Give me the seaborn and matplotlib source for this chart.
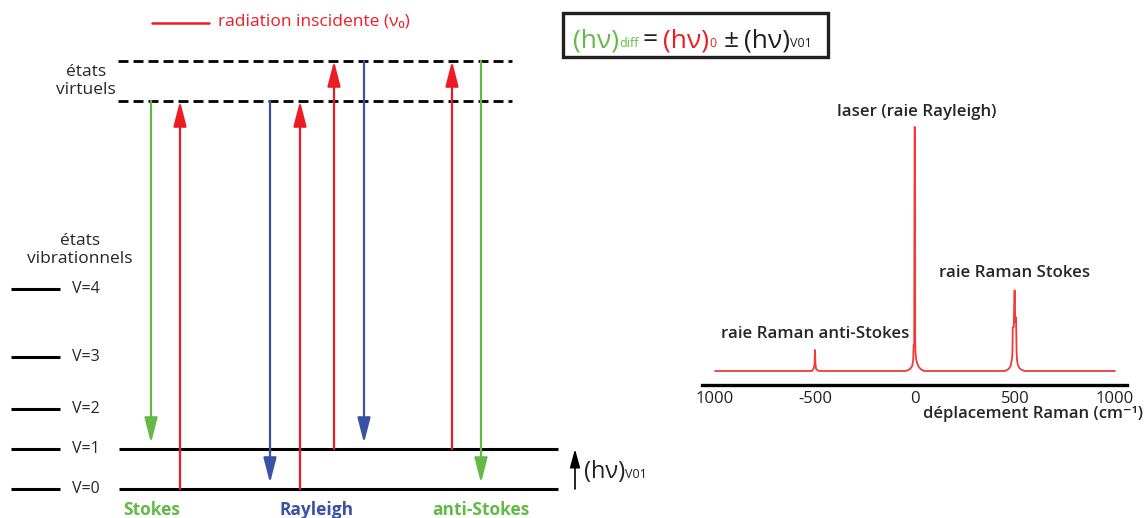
import matplotlib
matplotlib.use("Agg")
import matplotlib.pyplot as plt
import seaborn as sns

# --- data ---
level_names = ["V=0", "V=1", "V=2", "V=3", "V=4"]
level_energy = [0.0, 1.0, 2.0, 3.3, 5.0]          # in units of (hv)V01
virtual_energy = [9.7, 10.7]

# transitions, left to right
trans_from = [9.7, 0.0, 9.7, 0.0, 1.0, 10.7, 1.0, 10.7]
trans_to = [1.0, 9.7, 0.0, 9.7, 10.7, 1.0, 10.7, 0.0]
trans_kind = ["stokes", "incident", "rayleigh", "incident",
              "incident", "rayleigh", "incident", "anti"]
process_names = ["Stokes", "Rayleigh", "anti-Stokes"]

raman_shift = [-1000, -515, -507, -502, -500, -498, -495, -488, -478,
               -45, -25, -14, -9, -7, -4, -2, 0, 1, 3, 6, 12, 18, 28, 45,
               450, 468, 478, 484, 487, 489, 494, 497, 499, 501, 503, 505,
               508, 510, 514, 522, 532, 548, 1000]
intensity = [0, 0, 1.0, 3.0, 8.6, 3.0, 1.0, 0.3, 0,
             0, 0.8, 2.0, 4.5, 10.7, 11.0, 100, 100, 12.0, 7.0, 4.5, 3.0, 1.8, 0.8, 0,
             0, 0.8, 2.0, 4.5, 7.0, 18.0, 18.0, 33.0, 33.0, 20.0, 22.0, 22.0,
             8.0, 4.5, 2.5, 1.2, 0.5, 0, 0]
tick_vals = [-1000, -500, 0, 500, 1000]
tick_labels = ["1000", "-500", "0", "500", "1000"]

# --- style ---
RED = "#ED1C24"
GREEN = "#62B946"
BLUE = "#3A52A3"
SPEC_RED = "#F03A3A"
INK = "#231F20"
kind_color = {"stokes": GREEN, "anti": GREEN, "rayleigh": BLUE, "incident": RED}

sns.set_theme(style="white")
plt.rcParams["font.family"] = ["Open Sans", "DejaVu Sans"]

W, H = 1146, 518
fig = plt.figure(figsize=(W / 100, H / 100), dpi=100)


def fxy(x, y):
    return x / W, 1 - y / H


# --- energy diagram (x in pixels, y in energy) ---
ax = fig.add_axes([0, 0, 600 / W, 1])
ax.set_xlim(0, 600)
ax.set_ylim(-29 / 40, 489 / 40)
ax.axis("off")

for name, e in zip(level_names, level_energy):
    ax.plot([11, 60], [e, e], color="black", lw=2.2, solid_capstyle="butt")
    ax.text(72, e, name, va="center", ha="left", fontsize=11.5)
for e in level_energy[:2]:
    ax.plot([119, 558], [e, e], color="black", lw=2.2, solid_capstyle="butt")
for e in virtual_energy:
    ax.plot([118, 512], [e, e], color="black", lw=2, dashes=(3.6, 1.8))

trans_x = [151, 180, 270, 300, 334, 364, 452, 481]
for x, e0, e1, k in zip(trans_x, trans_from, trans_to, trans_kind):
    end = e1 if e1 > e0 else e1 + 0.15
    ax.annotate("", xy=(x, end), xytext=(x, e0),
                arrowprops=dict(arrowstyle="-|>,head_length=0.85,head_width=0.22",
                                color=kind_color[k], lw=1.6, shrinkA=0, shrinkB=0,
                                mutation_scale=18))

# (hv)V01 arrow
ax.annotate("", xy=(575, level_energy[1]), xytext=(575, level_energy[0]),
            arrowprops=dict(arrowstyle="-|>,head_length=0.8,head_width=0.22",
                            color="black", lw=1.2, shrinkA=0, shrinkB=0,
                            mutation_scale=14))

for name, x, c in zip(process_names, [152, 317, 481], [GREEN, BLUE, GREEN]):
    fig.text(*fxy(x, 510), name, color=c, ha="center", va="center",
             fontsize=12.5, fontweight="bold")

fig.text(*fxy(86, 81), "états\nvirtuels", ha="center", va="center",
         fontsize=12.5, linespacing=1.15)
fig.text(*fxy(80, 250), "états\nvibrationnels", ha="center", va="center",
         fontsize=12.5, linespacing=1.15)

# legend for incident radiation
fig.lines.append(plt.Line2D([152 / W, 209 / W], [1 - 23 / H, 1 - 23 / H],
                            transform=fig.transFigure, color=RED, lw=1.8))
fig.text(*fxy(218, 22), "radiation inscidente (ν₀)", color=RED,
         ha="left", va="center", fontsize=12.5)


def chain(pieces, x, y):
    """Write colored text pieces one after another on one baseline."""
    last = None
    for txt, color, size, dx in pieces:
        if last is None:
            last = fig.text(*fxy(x, y), txt, color=color, fontsize=size,
                            va="baseline", ha="left")
        else:
            last = ax.annotate(txt, xy=(1, fxy(0, y)[1]),
                               xycoords=(last, "figure fraction"),
                               xytext=(dx, 0), textcoords="offset points",
                               color=color, fontsize=size,
                               va="baseline", ha="left")
    return last


# formula box
fig.patches.append(plt.Rectangle(fxy(563, 57), 265 / W, 44 / H,
                                 transform=fig.transFigure, fill=False,
                                 edgecolor=INK, lw=2.4))
formula = [("(hν)", GREEN, 19, 0), ("diff", GREEN, 9, 0),
           ("=", INK, 19, 3), ("(hν)", RED, 19, 4),
           ("0", RED, 9, 0), ("±", INK, 19, 5),
           ("(hν)", INK, 19, 4), ("V01", INK, 9, 0)]
chain(formula, 573, 47)

chain([("(hν)", INK, 17, 0), ("V01", INK, 9, 0)], 584, 478)

# --- Raman spectrum ---
ax2 = fig.add_axes([702 / W, (H - 385) / H, 425 / W, 265 / H])
sns.lineplot(x=raman_shift, y=intensity, ax=ax2, color=SPEC_RED, lw=1.3)
ax2.set_xlim(-1065, 1060)
ax2.set_ylim(-5.74, 102.9)
for s in ["left", "top", "right"]:
    ax2.spines[s].set_visible(False)
ax2.spines["bottom"].set_linewidth(2.4)
ax2.spines["bottom"].set_color("black")
ax2.set_yticks([])
ax2.set_xticks(tick_vals, tick_labels, fontsize=12)
ax2.tick_params(axis="x", direction="in", length=6, width=2, pad=4, colors=INK)
ax2.set_xlabel("déplacement Raman (cm⁻¹)", fontsize=12, fontweight="semibold",
               loc="right")
ax2.xaxis.set_label_coords((1143 - 702) / 425, -(406 - 385) / 265)
ax2.patch.set_alpha(0)

ax2.text(10, 106, "laser (raie Rayleigh)", ha="center", va="center",
         fontsize=12.2, fontweight="semibold")
ax2.text(500, 40, "raie Raman Stokes", ha="center", va="center",
         fontsize=12.2, fontweight="semibold")
ax2.text(-500, 15.2, "raie Raman anti-Stokes", ha="center", va="center",
         fontsize=12.2, fontweight="semibold")

fig.savefig("out.png", dpi=100)
